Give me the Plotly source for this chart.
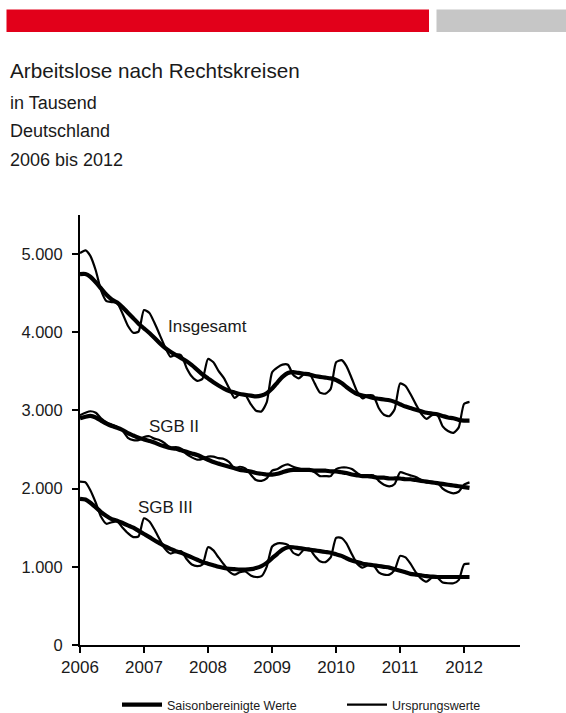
import pandas as pd
import plotly.graph_objects as go

# Monthly observations, January 2006 to February 2012 (in thousands)
months = pd.date_range("2006-01-01", "2012-02-01", freq="MS")

total_raw = [
    5012, 5048, 4977, 4790, 4537, 4398, 4386, 4372, 4237, 4084, 3995, 4008,
    4284, 4247, 4124, 3967, 3812, 3687, 3715, 3706, 3544, 3434, 3379, 3406,
    3659, 3617, 3507, 3414, 3283, 3160, 3210, 3196, 3081, 2997, 2988, 3102,
    3489, 3552, 3586, 3585, 3458, 3410, 3462, 3472, 3346, 3229, 3215, 3276,
    3617, 3643, 3568, 3406, 3242, 3153, 3192, 3188, 3031, 2945, 2927, 3016,
    3346, 3313, 3210, 3078, 2960, 2893, 2939, 2945, 2796, 2737, 2713, 2780,
    3084, 3110,
]
total_sa = [
    4745, 4745, 4710, 4640, 4560, 4480, 4420, 4380, 4320, 4250, 4180, 4110,
    4050, 3990, 3930, 3860, 3800, 3750, 3710, 3670, 3630, 3580, 3520, 3460,
    3410, 3360, 3320, 3280, 3250, 3230, 3210, 3200, 3190, 3180, 3190, 3220,
    3280, 3360, 3430, 3480, 3490, 3480, 3470, 3460, 3440, 3430, 3420, 3410,
    3390, 3350, 3300, 3250, 3210, 3190, 3180, 3160, 3150, 3140, 3130, 3110,
    3080, 3050, 3030, 3010, 2990, 2970, 2960, 2950, 2930, 2910, 2900, 2880,
    2870, 2870,
]
sgb2_raw = [
    2940, 2970, 2990, 2970, 2900, 2850, 2820, 2790, 2740, 2650, 2620, 2620,
    2660, 2670, 2640, 2620, 2580, 2520, 2530, 2510, 2440, 2400, 2370, 2380,
    2410, 2410, 2390, 2380, 2340, 2260, 2280, 2260, 2180, 2110, 2100, 2130,
    2230, 2250, 2290, 2310, 2280, 2260, 2240, 2240, 2210, 2160, 2160, 2160,
    2250, 2270, 2270, 2250, 2200, 2160, 2170, 2170, 2100, 2050, 2030, 2060,
    2210, 2190, 2170, 2150, 2110, 2080, 2080, 2080, 2000, 1960, 1940, 1960,
    2050, 2080,
]
sgb2_sa = [
    2900, 2920, 2930, 2910, 2870, 2830, 2800, 2780, 2750, 2710, 2680, 2650,
    2630, 2610, 2590, 2560, 2540, 2520, 2510, 2490, 2470, 2450, 2430, 2400,
    2370, 2340, 2320, 2300, 2280, 2260, 2240, 2230, 2220, 2200, 2190, 2180,
    2180, 2190, 2210, 2230, 2240, 2240, 2240, 2240, 2230, 2230, 2230, 2220,
    2220, 2210, 2200, 2180, 2170, 2160, 2160, 2150, 2140, 2140, 2130, 2130,
    2130, 2120, 2120, 2110, 2100, 2090, 2080, 2070, 2060, 2050, 2040, 2030,
    2020, 2010,
]
sgb3_raw = [
    2090, 2080, 1980, 1820, 1640, 1550, 1570, 1580, 1500, 1430, 1380, 1390,
    1620, 1580, 1480, 1350, 1230, 1170, 1190, 1200, 1100, 1030, 1010, 1030,
    1250, 1210, 1120, 1030, 940, 900, 930, 940, 890, 870, 880, 1000,
    1260, 1300, 1300, 1280, 1180, 1150, 1220, 1230, 1140, 1070, 1060, 1120,
    1370, 1370, 1300, 1160, 1040, 990, 1020, 1020, 930, 900, 900, 960,
    1140, 1120, 1040, 930, 850, 810, 860, 860, 800, 790, 790, 830,
    1030, 1040,
]
sgb3_sa = [
    1870, 1860, 1820, 1760, 1700, 1650, 1610, 1590, 1560, 1530, 1500, 1460,
    1420, 1380, 1340, 1300, 1260, 1230, 1200, 1180, 1150, 1120, 1090, 1060,
    1040, 1020, 1000, 985, 975, 970, 965, 965, 970, 985, 1010, 1050,
    1110, 1170, 1220, 1250, 1250, 1240, 1230, 1220, 1210, 1200, 1190, 1180,
    1160, 1140, 1110, 1080, 1060, 1040, 1030, 1020, 1010, 1000, 990, 970,
    950, 930, 910, 900, 890, 880, 875, 870, 870, 870, 870, 870,
    870, 870,
]

series_labels = ["Insgesamt", "SGB II", "SGB III"]
label_pos_x = ["2008-01-01", "2007-06-20", "2007-05-02"]
label_pos_y = [4080, 2800, 1760]
year_ticks = [f"{y}-01-01" for y in range(2006, 2013)]
year_text = [str(y) for y in range(2006, 2013)]
y_ticks = [0, 1000, 2000, 3000, 4000, 5000]

FONT = "Arial, Liberation Sans, sans-serif"
INK = "#1a1a1a"

# plot-area geometry in pixels
L, R, T, B = 80, 46, 215, 68
PW, PH = 566 - L - R, 713 - T - B


def px_x(x):
    return (x - L) / PW


def px_y(y):
    return (713 - B - y) / PH


fig = go.Figure()

pairs = [(total_sa, total_raw), (sgb2_sa, sgb2_raw), (sgb3_sa, sgb3_raw)]
for i, (sa, raw) in enumerate(pairs):
    fig.add_trace(go.Scatter(
        x=months, y=sa, mode="lines", name="Saisonbereinigte Werte",
        legend="legend", showlegend=(i == 0),
        line=dict(color="black", width=4.2, shape="spline", smoothing=0.6),
    ))
for i, (sa, raw) in enumerate(pairs):
    fig.add_trace(go.Scatter(
        x=months, y=raw, mode="lines", name="Ursprungswerte",
        legend="legend2", showlegend=(i == 0),
        line=dict(color="black", width=2.2, shape="spline", smoothing=0.6),
    ))

for txt, lx, ly in zip(series_labels, label_pos_x, label_pos_y):
    fig.add_annotation(x=lx, y=ly, text=txt, showarrow=False,
                       font=dict(size=17, color=INK, family=FONT))

# header bars
fig.add_shape(type="rect", xref="paper", yref="paper",
              x0=px_x(6.5), x1=px_x(429), y0=px_y(32), y1=px_y(9.5),
              fillcolor="#E2001A", line_width=0, layer="above")
fig.add_shape(type="rect", xref="paper", yref="paper",
              x0=px_x(436.5), x1=px_x(570), y0=px_y(32), y1=px_y(9.5),
              fillcolor="#C6C6C6", line_width=0, layer="above")

# title block
header = [("Arbeitslose nach Rechtskreisen", 70, 20.7),
          ("in Tausend", 103, 18),
          ("Deutschland", 131, 18),
          ("2006 bis 2012", 160, 18)]
for txt, yc, fs in header:
    fig.add_annotation(xref="paper", yref="paper", x=px_x(8),
                       y=px_y(yc), xanchor="left", yanchor="middle",
                       text=txt, showarrow=False,
                       font=dict(size=fs, color=INK, family=FONT))

legend_style = dict(orientation="h", xanchor="left", yanchor="middle",
                    itemwidth=40,
                    font=dict(size=12.5, family=FONT, color=INK),
                    bgcolor="rgba(0,0,0,0)")

fig.update_layout(
    width=566, height=713,
    margin=dict(l=L, r=R, t=T, b=B, autoexpand=False),
    paper_bgcolor="white", plot_bgcolor="white",
    separators=",.",
    font=dict(family=FONT, color=INK),
    showlegend=True,
    legend=dict(x=px_x(117), y=px_y(705), **legend_style),
    legend2=dict(x=px_x(342), y=px_y(705), **legend_style),
    xaxis=dict(type="date", range=["2006-01-01", "2012-11-15"],
               tickvals=year_ticks, ticktext=year_text,
               showgrid=False, zeroline=False,
               showline=True, linecolor="black", linewidth=2,
               ticks="outside", ticklen=6, tickwidth=2, tickcolor="black",
               tickfont=dict(size=17, family=FONT, color=INK)),
    yaxis=dict(range=[0, 5500], tickvals=y_ticks, tickformat=",d",
               showgrid=False, zeroline=False,
               showline=True, linecolor="black", linewidth=2,
               ticks="outside", ticklen=6, tickwidth=2, tickcolor="black",
               ticklabelstandoff=6,
               tickfont=dict(size=16.5, family=FONT, color=INK)),
)

fig.write_html("out.html")
